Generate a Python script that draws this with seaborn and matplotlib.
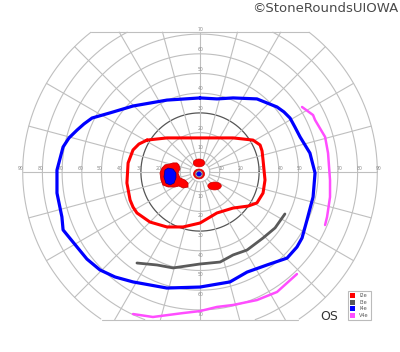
import numpy as np
import pandas as pd
import matplotlib
matplotlib.use("Agg")
import matplotlib.pyplot as plt
import seaborn as sns
from matplotlib.patches import Patch, Ellipse

# ---------------- data (visual-field degrees) ----------------
i4e_x = [0, 8.6, 16.8, 28.9, 39.1, 42.6, 45.7, 48.2, 50.8, 55.8, 58.4, 57.4, 54.3, 51.8, 49.2, 44.2, 34.0, 23.9, 15.2, 0,
         -16.8, -34.0, -43.1, -50.8, -57.4, -62.4, -69.5, -70.1, -72.6, -72.6, -69.5, -66.5, -62.4, -58.9, -54.8, -45.7,
         -34.0, -16.8, 0]
i4e_y = [37.6, 37.1, 37.6, 37.1, 33.0, 30.5, 27.4, 22.8, 17.8, 9.6, -0.5, -12.7, -24.4, -33.5, -38.1, -43.7, -47.2,
         -50.8, -55.8, -58.4, -58.9, -55.8, -53.3, -49.7, -44.2, -38.1, -29.4, -22.8, -10.7, 1.0, 12.7, 17.3, 21.3,
         24.4, 27.4, 30.0, 33.5, 36.5, 37.6]

i2e_x = [-26.9, -16.8, 0, 16.8, 26.9, 30.5, 31.5, 32.0, 33.0, 32.0, 28.9, 24.4, 16.8, 8.6, 0, -8.6, -16.8, -25.4,
         -32.0, -34.0, -35.5, -37.1, -36.5, -34.0, -31.0, -26.9]
i2e_y = [16.2, 17.3, 17.3, 17.3, 16.2, 13.7, 10.7, 6.1, -4.1, -10.7, -15.7, -17.3, -18.3, -20.8, -25.9, -27.9, -27.9,
         -25.4, -20.8, -17.8, -14.2, -5.6, 4.6, 11.2, 14.2, 16.2]

i3e_x = [43.1, 38.1, 32.0, 23.9, 16.8, 10.2, 0, -13.7, -21.8, -32.0]
i3e_y = [-21.3, -28.4, -33.5, -39.6, -42.1, -45.7, -46.7, -48.7, -47.2, -46.2]

v4e_right_x = [51.8, 57.4, 58.4, 63.5, 65.0, 66.0, 66.0, 64.5, 63.5]
v4e_right_y = [33.0, 28.9, 26.4, 17.8, 9.6, -4.1, -12.7, -22.8, -26.9]
v4e_bottom_x = [49.2, 39.1, 28.9, 16.8, 8.6, 0, -8.6, -23.9, -34.0]
v4e_bottom_y = [-51.8, -60.9, -65.0, -67.5, -68.5, -70.6, -71.6, -73.6, -72.1]

# blind-spot scotoma (I2e red, I4e blue)
bs_red_x = [-19.3, -17.8, -15.2, -13.7, -11.7, -10.7, -10.2, -11.2, -10.2, -7.6, -6.1, -6.1, -8.6, -10.7,
            -12.7, -16.2, -18.8, -19.8, -20.3]
bs_red_y = [2.0, 3.6, 4.1, 4.6, 4.6, 3.6, 1.5, -0.5, -3.0, -4.1, -5.6, -7.6, -8.1, -7.1, -7.6, -7.6, -6.6, -4.1, -0.5]
bs_blue_x = [-17.8, -16.2, -13.7, -12.2, -12.2, -13.2, -15.2, -17.3, -18.3]
bs_blue_y = [1.0, 2.0, 1.5, -0.5, -3.0, -5.6, -6.6, -5.6, -2.5]

# small I2e scotomas: centre x, centre y, width, height
spot_x = [-0.5, 7.4]
spot_y = [4.6, -7.1]
spot_w = [5.8, 6.8]
spot_h = [4.0, 4.0]

rings = [5, 10, 20, 30, 40, 50, 60, 70, 80, 90]
h_labels = [10, 20, 30, 40, 50, 60, 70, 80, 90]
v_labels = [10, 20, 30, 40, 50, 60, 70]
legend_names = ["I2e", "I3e", "I4e", "V4e"]
legend_colors = ["#ff0000", "#5a5a5a", "#0000ff", "#ff4dff"]

# ---------------- figure ----------------
sns.set_style("white")
plt.rcParams["font.family"] = ["DejaVu Sans"]

PX = 1.97
fig = plt.figure(figsize=(4.0, 3.52), dpi=100)
ax = fig.add_axes([0, 0, 1, 1])
ax.set_xlim(-200 / PX, 200 / PX)
ax.set_ylim((172 - 352) / PX, 172 / PX)
ax.axis("off")

TOP, BOT = 71.0, -75.0
grid_c = "#bfbfbf"

# rings
t = np.linspace(0, 2 * np.pi, 721)
for r in rings:
    x = r * np.cos(t)
    y = r * np.sin(t)
    m = (y > TOP) | (y < BOT)
    x = np.where(m, np.nan, x)
    y = np.where(m, np.nan, y)
    ax.plot(x, y, color="#555555" if r == 30 else grid_c, lw=0.9 if r == 30 else 0.8, zorder=1)

# clip lines top / bottom
for yy in (TOP, BOT):
    dx = np.sqrt(90 ** 2 - yy ** 2)
    ax.plot([-dx, dx], [yy, yy], color=grid_c, lw=0.8, zorder=1)

# meridians every 15 deg
for a in np.arange(0, 360, 15):
    th = np.deg2rad(a)
    s = np.sin(th)
    rmax = 90.0
    if s > 1e-6:
        rmax = min(rmax, TOP / s)
    elif s < -1e-6:
        rmax = min(rmax, BOT / s)
    ax.plot([5 * np.cos(th), rmax * np.cos(th)], [5 * np.sin(th), rmax * np.sin(th)],
            color=grid_c, lw=0.8, zorder=1)

# scale labels
lab_c = "#8a8a8a"
for r in h_labels:
    for sgn in (-1, 1):
        ax.text(sgn * (r + 0.8), 1.6, str(r), fontsize=3.3, color=lab_c, ha="center", va="center", zorder=2)
for r in v_labels:
    for sgn in (-1, 1):
        ax.text(0.3, sgn * (r + 2.2), str(r), fontsize=3.3, color=lab_c, ha="center", va="center", zorder=2)

# isopters
def iso(xs, ys, color, lw):
    df = pd.DataFrame({"x": xs, "y": ys})
    sns.lineplot(data=df, x="x", y="y", sort=False, estimator=None, color=color, lw=lw, ax=ax,
                 zorder=4, solid_joinstyle="round", solid_capstyle="round")

iso(i4e_x, i4e_y, legend_colors[2], 2.3)
iso(i2e_x, i2e_y, legend_colors[0], 2.2)
iso(i3e_x, i3e_y, legend_colors[1], 2.0)
iso(v4e_right_x, v4e_right_y, legend_colors[3], 1.8)
iso(v4e_bottom_x, v4e_bottom_y, legend_colors[3], 1.8)

# scotomas
ax.fill(bs_red_x, bs_red_y, color=legend_colors[0], ec="#cc0000", lw=0.6, zorder=5, joinstyle="round")
ax.fill(bs_blue_x, bs_blue_y, color=legend_colors[2], ec="#000088", lw=0.5, zorder=6, joinstyle="round")
for cx, cy, w, h in zip(spot_x, spot_y, spot_w, spot_h):
    ax.add_patch(Ellipse((cx, cy), w, h, fc=legend_colors[0], ec="#cc0000", lw=0.5, zorder=5))
# fixation marking
ax.add_patch(Ellipse((-0.5, -1.0), 5.6, 5.0, fc=legend_colors[0], ec="#cc0000", lw=0.5, zorder=5))
ax.add_patch(Ellipse((-0.5, -1.0), 3.6, 3.4, fc="#bbbbbb", ec="#777777", lw=0.4, zorder=6))
ax.add_patch(Ellipse((-0.5, -1.0), 2.4, 2.2, fc=legend_colors[2], ec="#000088", lw=0.3, zorder=7))

# texts
fig.text(398 / 400, 1 - 8 / 352, "\u00a9StoneRoundsUIOWA", ha="right", va="center", fontsize=9.5, color="#4a4a4a")
fig.text(329 / 400, 1 - 317 / 352, "OS", ha="center", va="center", fontsize=9, color="#333333")

handles = [Patch(facecolor=c, edgecolor="none", label=n) for n, c in zip(legend_names, legend_colors)]
leg = fig.legend(handles=handles, loc="lower right", bbox_to_anchor=(373 / 400, 1 - 322 / 352),
                 fontsize=3.6, handlelength=1.0, handleheight=1.2, handletextpad=0.8, labelspacing=0.25,
                 borderpad=0.35, frameon=True, fancybox=False, edgecolor="#bbbbbb", framealpha=1)
leg.get_frame().set_linewidth(0.8)
for txt in leg.get_texts():
    txt.set_color("#555555")

fig.savefig("out.png", dpi=100)
